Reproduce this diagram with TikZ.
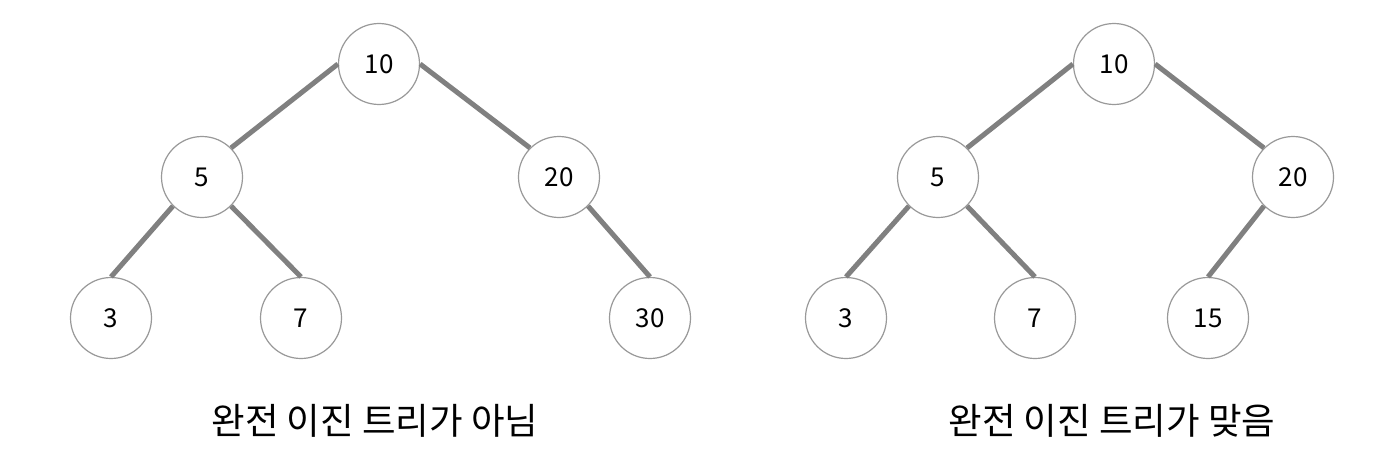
\documentclass[tikz,border=0pt]{standalone}
\usepackage{fontspec}
\setmainfont{Noto Sans CJK KR}
\usetikzlibrary{positioning}
\tikzset{
  keynode/.style={circle,draw=gray!80,line width=1.2pt,fill=white,minimum size=81pt,inner sep=0pt,font=\fontsize{26}{30}\selectfont},
  link/.style={draw=gray,line width=5pt},
  caption/.style={font=\fontsize{36.5}{42}\selectfont}
}
\begin{document}
\begin{tikzpicture}[x=1pt,y=-1pt]
			\useasboundingbox (0,0) rectangle (1392,460);
			% not complete
			\node[keynode] (a10) at (379,64) {10};
			\node[keynode] (a5) at (202,177) {5};
			\node[keynode] (a20) at (559,177) {20};
			\node[keynode] (a3) at (111,318) {3};
			\node[keynode] (a7) at (301,318) {7};
			\node[keynode] (a30) at (650,318) {30};
			\draw[link] (a10.west) -- (a5.north east);
			\draw[link] (a10.east) -- (a20.north west);
			\draw[link] (a5.south west) -- (a3.north);
			\draw[link] (a5.south east) -- (a7.north);
			\draw[link] (a20.south east) -- (a30.north);
			\node[caption] (capa) at (375,421) {완전 이진 트리가 아님};
			% complete
			\node[keynode] (b10) at (1114,64) {10};
			\node[keynode] (b5) at (938,177) {5};
			\node[keynode] (b20) at (1293,177) {20};
			\node[keynode] (b3) at (846,318) {3};
			\node[keynode] (b7) at (1035,318) {7};
			\node[keynode] (b15) at (1208,318) {15};
			\draw[link] (b10.west) -- (b5.north east);
			\draw[link] (b10.east) -- (b20.north west);
			\draw[link] (b5.south west) -- (b3.north);
			\draw[link] (b5.south east) -- (b7.north);
			\draw[link] (b20.south west) -- (b15.north);
			\node[caption] (capb) at (1112,421) {완전 이진 트리가 맞음};
		\end{tikzpicture}
\end{document}
